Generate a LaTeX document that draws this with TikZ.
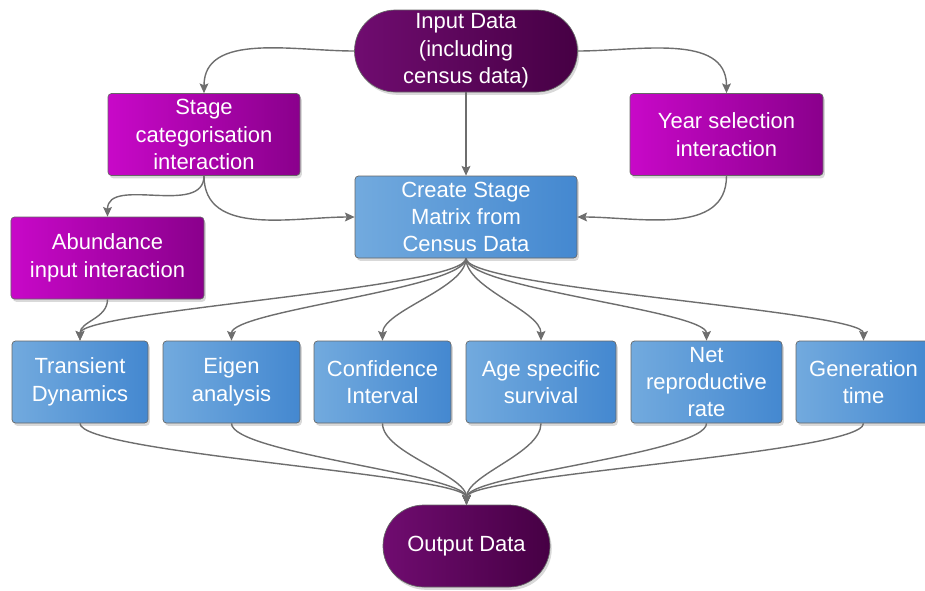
\documentclass[tikz,border=0pt]{standalone}
\usepackage{fontspec}
\setmainfont{Liberation Sans}
\definecolor{pillleft}{RGB}{112, 12, 112}
\definecolor{pillright}{RGB}{70, 0, 68}
\definecolor{magleft}{RGB}{200, 8, 200}
\definecolor{magright}{RGB}{138, 0, 140}
\definecolor{blueleft}{RGB}{114, 170, 222}
\definecolor{blueright}{RGB}{68, 136, 208}
\definecolor{arrowgray}{RGB}{110, 110, 110}
\usepackage{tikz}
\usetikzlibrary{shapes.misc, arrows.meta, shadows}

\begin{document}
\begin{tikzpicture}[
  boxtext/.style={font={\fontsize{12.5}{15.6}\selectfont}, text=white, align=center, inner sep=0pt},
  boxshadow/.style={drop shadow={shadow xshift=1pt, shadow yshift=-1.6pt, opacity=0.3}},
  pillnode/.style={boxtext, boxshadow, rounded rectangle, draw=black!60, line width=0.4pt, left color=pillleft, right color=pillright, minimum height=1.64cm},
  interbox/.style={boxtext, boxshadow, rectangle, rounded corners=2pt, draw=black!60, line width=0.4pt, left color=magleft, right color=magright, minimum height=1.64cm},
  calcbox/.style={boxtext, boxshadow, rectangle, rounded corners=2pt, draw=black!60, line width=0.4pt, left color=blueleft, right color=blueright, minimum height=1.64cm},
  flowarrow/.style={draw=arrowgray, line width=0.8pt, -{Stealth[length=5.5pt, width=5pt, inset=1pt]}},
  fan/.style={out=-90, in=90, out distance=0.6cm, in distance=0.6cm}
]
  \useasboundingbox (0, 0) rectangle (18.5, -11.8);

  % Input and interactions
  \node[pillnode, minimum width=4.46cm] (inputdata) at (9.32, -1.02) {Input Data\\(including\\census data)};
  \node[interbox, minimum width=3.84cm] (stagecat) at (4.08, -2.69) {Stage\\categorisation\\interaction};
  \node[interbox, minimum width=3.86cm] (yearsel) at (14.53, -2.69) {Year selection\\interaction};
  \node[calcbox, minimum width=4.44cm] (creatematrix) at (9.32, -4.34) {Create Stage\\Matrix from\\Census Data};
  \node[interbox, minimum width=3.86cm] (abundance) at (2.15, -5.16) {Abundance\\input interaction};

  % Analyses
  \node[calcbox, minimum width=2.72cm] (transient) at (1.60, -7.64) {Transient\\Dynamics};
  \node[calcbox, minimum width=2.74cm] (eigen) at (4.63, -7.64) {Eigen\\analysis};
  \node[calcbox, minimum width=2.74cm] (confint) at (7.65, -7.64) {Confidence\\Interval};
  \node[calcbox, minimum width=3.00cm] (agesurv) at (10.82, -7.64) {Age specific\\survival};
  \node[calcbox, minimum width=3.02cm] (netrep) at (14.13, -7.64) {Net\\reproductive\\rate};
  \node[calcbox, minimum width=2.70cm] (gentime) at (17.27, -7.64) {Generation\\time};

  % Output
  \node[pillnode, minimum width=3.34cm] (outputdata) at (9.33, -10.92) {Output Data};

  % Upper connectors
  \draw[flowarrow] (inputdata.west) to[out=180, in=90] (stagecat.north);
  \draw[flowarrow] (inputdata.east) to[out=0, in=90] (yearsel.north);
  \draw[flowarrow] (inputdata.south) -- (creatematrix.north);
  \draw[flowarrow] (stagecat.south) to[out=-90, in=180] (creatematrix.west);
  \draw[flowarrow] (stagecat.south) to[out=-90, in=90] (abundance.north);
  \draw[flowarrow] (yearsel.south) to[out=-90, in=0] (creatematrix.east);
  \draw[flowarrow] (abundance.south) to[out=-90, in=90] (transient.north);

  % Matrix to analyses
  \draw[flowarrow] (creatematrix.south) to[fan] (transient.north);
  \draw[flowarrow] (creatematrix.south) to[fan] (eigen.north);
  \draw[flowarrow] (creatematrix.south) to[fan] (confint.north);
  \draw[flowarrow] (creatematrix.south) to[fan] (agesurv.north);
  \draw[flowarrow] (creatematrix.south) to[fan] (netrep.north);
  \draw[flowarrow] (creatematrix.south) to[fan] (gentime.north);

  % Analyses to output
  \draw[flowarrow] (transient.south) to[fan] (outputdata.north);
  \draw[flowarrow] (eigen.south) to[fan] (outputdata.north);
  \draw[flowarrow] (confint.south) to[fan] (outputdata.north);
  \draw[flowarrow] (agesurv.south) to[fan] (outputdata.north);
  \draw[flowarrow] (netrep.south) to[fan] (outputdata.north);
  \draw[flowarrow] (gentime.south) to[fan] (outputdata.north);
\end{tikzpicture}
\end{document}
